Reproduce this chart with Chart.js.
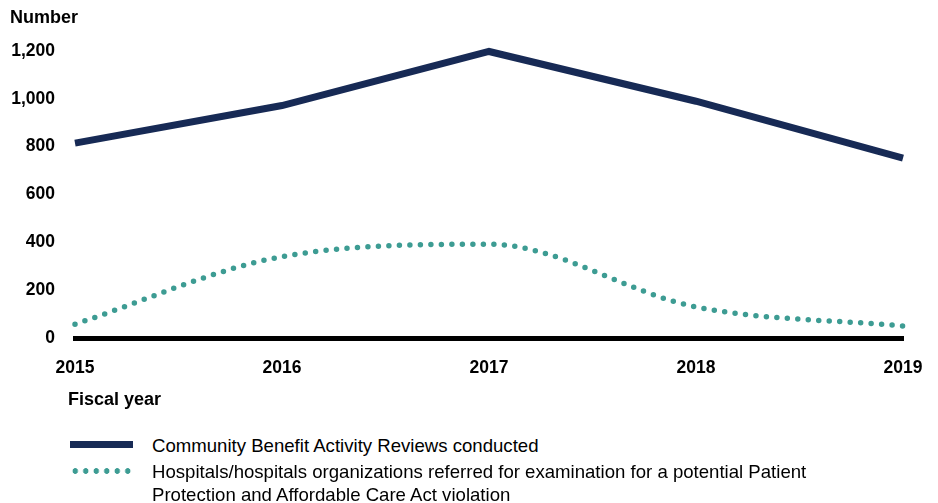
<!DOCTYPE html>
<html>
<head>
<meta charset="utf-8">
<script src="https://cdn.jsdelivr.net/npm/chart.js@4"></script>
<style>
	body { margin: 0; background: #fff; font-family: 'Liberation Sans', Arial, sans-serif; }
	#wrap { position: relative; width: 938px; height: 503px; }
	#box { position: absolute; left: 0; top: 0; width: 938px; height: 420px; }
	.lbl { position: absolute; font-weight: bold; font-size: 18px; color: #000; }
	.leg { position: absolute; left: 70px; font-size: 18.6px; color: #000; line-height: 23px; }
	.sw { position: absolute; left: 0; width: 63px; }
	.txt { position: absolute; left: 82px; width: 780px; }
</style>
</head>
<body>
<div id="wrap">
	<div id="box"><canvas id="lineChart"></canvas></div>
	<div class="lbl" style="left:10px; top:7px;">Number</div>
	<div class="lbl" style="left:68px; top:389px;">Fiscal year</div>
	<div class="leg" style="top:434px;">
		<div class="sw" style="top:7px; height:7px; background:#172a55;"></div>
		<div class="txt" style="top:0; white-space:nowrap;">Community Benefit Activity Reviews conducted</div>
	</div>
	<div class="leg" style="top:460px;">
		<div class="sw" style="top:8px; height:6px; background:radial-gradient(circle, #3d9c93 2.6px, transparent 3px) 0 0 / 10.5px 6px repeat-x;"></div>
		<div class="txt" style="top:0;">Hospitals/hospitals organizations referred for examination for a potential Patient<br>Protection and Affordable Care Act violation</div>
	</div>
</div>
<script>
// fiscal years and values
const years = ['2015', '2016', '2017', '2018', '2019']
const reviews = [815, 972, 1198, 990, 752]
const referred = [58, 340, 392, 130, 50]
const yTicks = [0, 200, 400, 600, 800, 1000, 1200]

const tickFont = { family: 'Liberation Sans', size: 17.5, weight: 'bold' }

const ctx = document.getElementById('lineChart').getContext('2d')
const chart = new Chart(ctx, {
	type: 'line',
	data: {
		labels: years,
		datasets: [
			{
				label: 'Community Benefit Activity Reviews conducted',
				data: reviews,
				borderColor: '#172a55',
				borderWidth: 7,
				tension: 0,
				pointRadius: 0,
				fill: false,
				clip: false,
			},
			{
				label: 'Hospitals/hospitals organizations referred for examination for a potential Patient Protection and Affordable Care Act violation',
				data: referred,
				borderColor: '#3d9c93',
				borderWidth: 5.5,
				borderDash: [0, 10.5],
				borderCapStyle: 'round',
				cubicInterpolationMode: 'monotone',
				pointRadius: 0,
				fill: false,
				clip: false,
			},
		],
	},
	options: {
		responsive: true,
		maintainAspectRatio: false,
		animation: false,
		layout: { padding: { top: 51, right: 35, left: 0, bottom: 0 } },
		plugins: { legend: { display: false }, tooltip: { enabled: false } },
		scales: {
			x: {
				offset: false,
				grid: { display: false, drawTicks: false },
				border: { display: true, color: '#000', width: 5, z: -1 },
				ticks: {
					color: '#000',
					font: tickFont,
					padding: 20,
					maxRotation: 0,
				},
				afterFit: s => {
					s.height = 82
					s.paddingLeft = 0
					s.paddingRight = 0
				},
			},
			y: {
				min: 0,
				max: 1200,
				afterBuildTicks: s => { s.ticks = yTicks.map(v => ({ value: v })) },
				grid: { display: false, drawTicks: false },
				border: { display: false },
				ticks: {
					color: '#000',
					font: tickFont,
					padding: 20,
					callback: v => v.toLocaleString('en-US'),
				},
				afterFit: s => { s.width = 75 },
			},
		},
	},
})
</script>
</body>
</html>
